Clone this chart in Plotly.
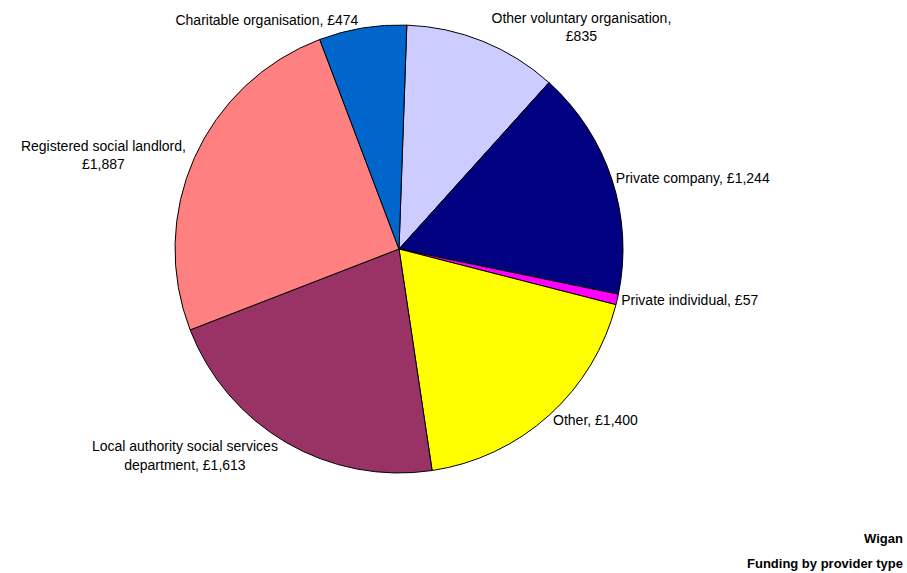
import plotly.graph_objects as go

# Funding by provider type, Wigan (clockwise from 12 o'clock)
providers = [
    "Other voluntary organisation",
    "Private company",
    "Private individual",
    "Other",
    "Local authority social services department",
    "Registered social landlord",
    "Charitable organisation",
]
funding = [835, 1244, 57, 1400, 1613, 1887, 474]
label_text = [
    "Other voluntary organisation,<br>£835",
    "Private company, £1,244",
    "Private individual, £57",
    "Other, £1,400",
    "Local authority social services<br>department, £1,613",
    "Registered social landlord,<br>£1,887",
    "Charitable organisation, £474",
]
slice_colors = ["#CCCCFF", "#000080", "#FF00FF", "#FFFF00", "#993366", "#FF8080", "#0066CC"]

W, H = 907, 573
cx, cy, r = 399, 249, 224
FONT = "Liberation Sans, Arial, sans-serif"

fig = go.Figure(
    go.Pie(
        labels=providers,
        values=funding,
        text=label_text,
        texttemplate="%{text}",
        textinfo="text",
        textposition="outside",
        sort=False,
        direction="clockwise",
        rotation=2,
        marker=dict(colors=slice_colors, line=dict(color="#000000", width=1)),
        textfont=dict(family=FONT, size=14, color="#000000"),
        showlegend=False,
        hoverinfo="label+value",
        domain=dict(x=[(cx - r) / W, (cx + r) / W], y=[1 - (cy + r) / H, 1 - (cy - r) / H]),
        automargin=False,
    )
)

fig.add_annotation(
    text="<b>Wigan</b>", x=905 / W, y=1 - 538 / H, xref="paper", yref="paper",
    xanchor="right", yanchor="middle", showarrow=False,
    font=dict(family=FONT, size=13, color="#000000"),
)
fig.add_annotation(
    text="<b>Funding by provider type</b>", x=905 / W, y=1 - 563 / H, xref="paper", yref="paper",
    xanchor="right", yanchor="middle", showarrow=False,
    font=dict(family=FONT, size=13, color="#000000"),
)

fig.update_layout(
    width=W, height=H,
    margin=dict(l=0, r=0, t=0, b=0),
    paper_bgcolor="#FFFFFF",
    plot_bgcolor="#FFFFFF",
)

fig.write_html("out.html")
